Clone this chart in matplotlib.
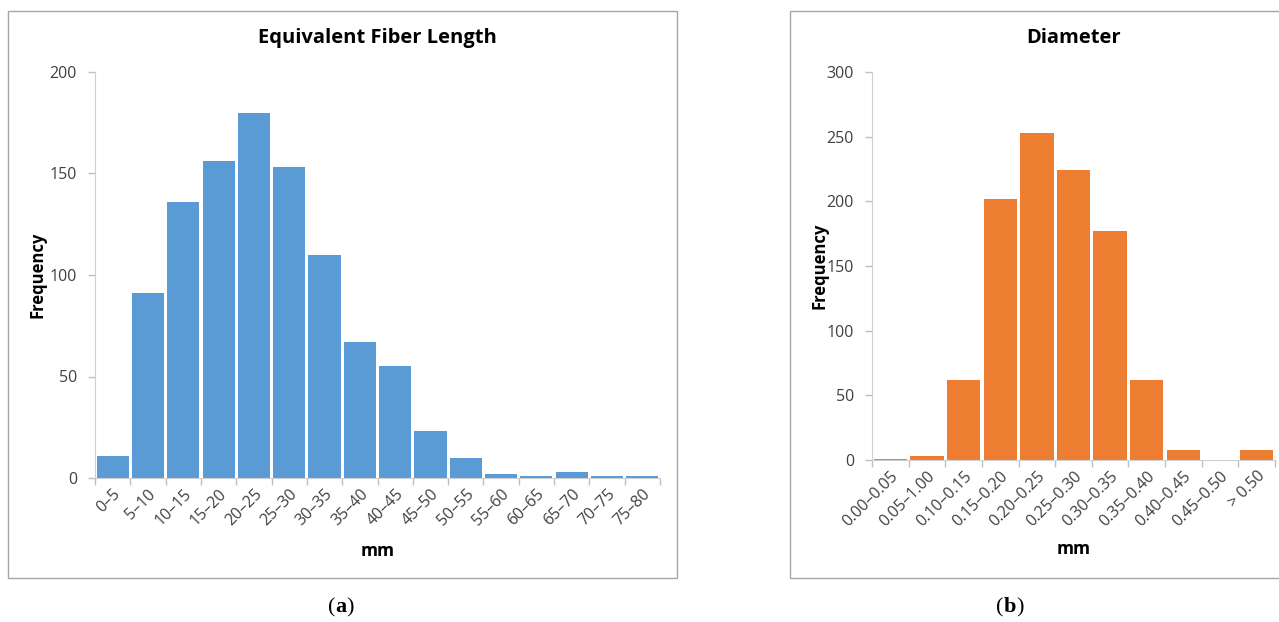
import matplotlib
matplotlib.use("Agg")
import matplotlib.pyplot as plt
from matplotlib.patches import Rectangle
from matplotlib.offsetbox import TextArea, HPacker, AnchoredOffsetbox

len_labels = ["0–5", "5–10", "10–15", "15–20", "20–25", "25–30", "30–35", "35–40",
              "40–45", "45–50", "50–55", "55–60", "60–65", "65–70", "70–75", "75–80"]
len_values = [11, 91, 136, 156, 180, 153, 110, 67, 55, 23, 10, 2, 1, 3, 1, 1]

dia_labels = ["0.00–0.05", "0.05–1.00", "0.10–0.15", "0.15–0.20", "0.20–0.25", "0.25–0.30",
              "0.30–0.35", "0.35–0.40", "0.40–0.45", "0.45–0.50", "> 0.50"]
dia_values = [1, 3, 62, 202, 253, 224, 177, 62, 8, 0, 8]

FONT = "Open Sans"
plt.rcParams["font.family"] = [FONT, "DejaVu Sans"]

W, H = 1279, 622
fig = plt.figure(figsize=(W / 100, H / 100), dpi=100)

def fx(px):
    return px / W

def fy(py):
    return 1 - py / H

# panel frames
for (x0, y0, x1, y1) in [(8, 11, 677, 578), (790, 11, 1285, 578)]:
    fig.patches.append(Rectangle((fx(x0), fy(y1)), fx(x1 - x0), (y1 - y0) / H,
                                 transform=fig.transFigure, fill=False,
                                 edgecolor="#a6a6a6", linewidth=1.0, zorder=0))

def panel(rect, labels, values, color, ymax, ystep, title, title_y, ylab_x, xlab_y):
    ax = fig.add_axes(rect)
    n = len(labels)
    x = list(range(n))
    ax.bar(x, values, width=0.91, color=color, linewidth=0, zorder=2)
    ax.set_xlim(-0.5, n - 0.5)
    ax.set_ylim(0, ymax)
    ax.set_yticks(list(range(0, ymax + 1, ystep)))
    ax.set_xticks([i - 0.5 for i in range(n + 1)])
    ax.set_xticklabels([])
    ax.set_xticks(x, minor=True)
    ax.set_xticklabels(labels, minor=True, rotation=45, ha="right", va="top",
                       rotation_mode="anchor", fontsize=11.5, color="#404040")
    ax.tick_params(axis="x", which="minor", length=0, pad=6)
    ax.tick_params(axis="x", which="major", length=5, color="#bfbfbf", width=1)
    ax.tick_params(axis="y", length=5, color="#bfbfbf", width=1, labelsize=11.5,
                   labelcolor="#404040", pad=8)
    for s in ["top", "right"]:
        ax.spines[s].set_visible(False)
    ax.spines["left"].set_color("#d0d0d0")
    ax.spines["bottom"].set_color("#d0d0d0")
    ax.set_facecolor("none")
    cx = rect[0] + rect[2] / 2
    fig.text(cx, fy(title_y), title, ha="center", va="center", fontsize=14.5,
             fontweight="bold", color="#000000")
    fig.text(fx(ylab_x), rect[1] + rect[3] / 2, "Frequency", rotation=90, ha="center",
             va="center", fontsize=12, fontweight="bold")
    fig.text(cx, fy(xlab_y), "mm", ha="center", va="center", fontsize=12.5, fontweight="bold")
    return ax

panel([fx(95), fy(478), fx(660 - 95), (478 - 72) / H], len_labels, len_values,
      "#5b9bd5", 200, 50, "Equivalent Fiber Length", 38, 38, 551)
panel([fx(872), fy(460), fx(1275 - 872), (460 - 72) / H], dia_labels, dia_values,
      "#ed7d31", 300, 50, "Diameter", 38, 820, 549)

def caption(px, letter):
    props = dict(family="Liberation Serif", size=16)
    parts = [TextArea("(", textprops=props),
             TextArea(letter, textprops=dict(props, weight="bold")),
             TextArea(")", textprops=props)]
    box = HPacker(children=parts, pad=0, sep=0, align="baseline")
    ab = AnchoredOffsetbox(loc="center", child=box, pad=0, frameon=False,
                           bbox_to_anchor=(fx(px), fy(607)),
                           bbox_transform=fig.transFigure, borderpad=0)
    fig.add_artist(ab)

caption(341, "a")
caption(1010, "b")

fig.savefig("out.png", dpi=100)
